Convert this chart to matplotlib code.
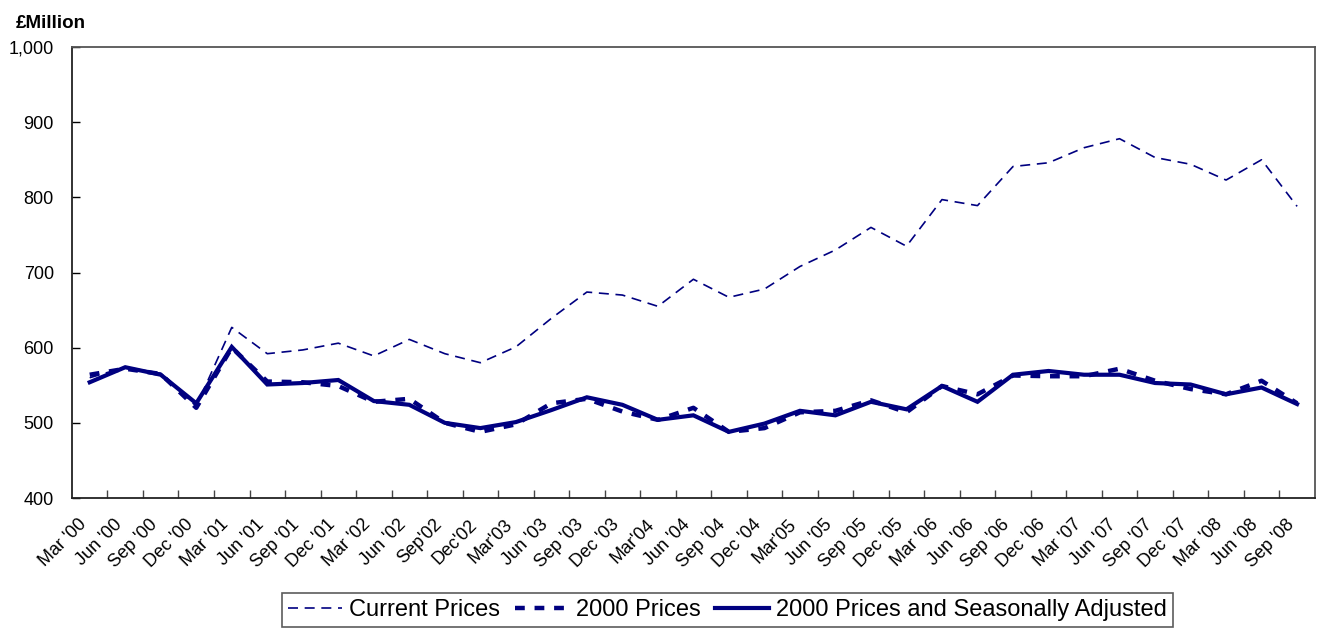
import matplotlib.pyplot as plt
from matplotlib.ticker import FuncFormatter, FixedLocator

plt.rcParams['font.family'] = ['Liberation Sans', 'DejaVu Sans']

quarters = ["Mar '00", "Jun '00", "Sep '00", "Dec '00", "Mar '01", "Jun '01", "Sep '01", "Dec '01",
            "Mar '02", "Jun '02", "Sep'02", "Dec'02", "Mar'03", "Jun '03", "Sep '03", "Dec '03",
            "Mar'04", "Jun '04", "Sep '04", "Dec '04", "Mar'05", "Jun '05", "Sep '05", "Dec '05",
            "Mar '06", "Jun '06", "Sep '06", "Dec '06", "Mar '07", "Jun '07", "Sep '07", "Dec '07",
            "Mar '08", "Jun '08", "Sep '08"]

current_prices = [560, 574, 566, 522, 627, 592, 597, 606, 589, 611, 592, 580, 601, 639, 674, 670,
                  655, 691, 667, 678, 708, 730, 760, 735, 797, 789, 841, 846, 866, 878, 853, 844,
                  823, 850, 788]
prices_2000 = [564, 572, 565, 520, 600, 555, 554, 549, 528, 532, 500, 488, 498, 526, 532, 515,
               504, 520, 488, 493, 514, 516, 530, 514, 549, 538, 563, 562, 562, 572, 556, 545,
               538, 556, 526]
prices_2000_sa = [554, 574, 564, 526, 601, 551, 553, 557, 529, 524, 500, 493, 501, 517, 534, 524,
                  504, 510, 488, 499, 516, 510, 528, 518, 549, 528, 564, 569, 564, 564, 553, 551,
                  538, 547, 525]

navy = '#000080'
x = list(range(len(quarters)))

fig = plt.figure(figsize=(13.18, 6.30), dpi=100)
ax = fig.add_axes([0.0546, 0.2095, 0.943, 0.7159])

ax.plot(x, current_prices, color=navy, lw=1.2, dashes=(6, 4), label='Current Prices')
ax.plot(x, prices_2000, color=navy, lw=3.2, dashes=(2.2, 2.2), label='2000 Prices')
ax.plot(x, prices_2000_sa, color=navy, lw=3, solid_joinstyle='miter',
        label='2000 Prices and Seasonally Adjusted')

ax.set_xlim(-0.5, len(quarters) - 0.5)
ax.set_ylim(400, 1000)
ax.set_yticks(range(400, 1001, 100))
ax.yaxis.set_major_formatter(FuncFormatter(lambda v, p: f'{int(v):,}'))

# labels sit a little left of the category centre, as in the original
ax.set_xticks([i - 0.33 for i in x])
ax.set_xticklabels(quarters, rotation=45, ha='right', rotation_mode='anchor')
ax.xaxis.set_minor_locator(FixedLocator([i + 0.5 for i in x[:-1]]))
ax.tick_params(axis='x', which='major', length=0, pad=13, labelsize=13)
ax.tick_params(axis='x', which='minor', direction='in', length=6, width=1, color='#444444')
ax.tick_params(axis='y', direction='in', length=6, width=1, labelsize=13, pad=13)

for side in ['left', 'bottom']:
    ax.spines[side].set_linewidth(1.3)
    ax.spines[side].set_color('#222222')
for side in ['top', 'right']:
    ax.spines[side].set_linewidth(1.3)
    ax.spines[side].set_color('#555555')

fig.text(0.012, 0.963, '£Million', fontsize=13.5, fontweight='bold', va='center', ha='left')

leg = fig.legend(loc='lower center', bbox_to_anchor=(0.552, -0.006), ncol=3, fontsize=17,
                 frameon=True, fancybox=False, edgecolor='#333333', handlelength=2.3,
                 handletextpad=0.3, columnspacing=0.6, borderpad=0.25, borderaxespad=0.3)
leg.get_frame().set_linewidth(1.2)

fig.savefig('out.png', dpi=100)
